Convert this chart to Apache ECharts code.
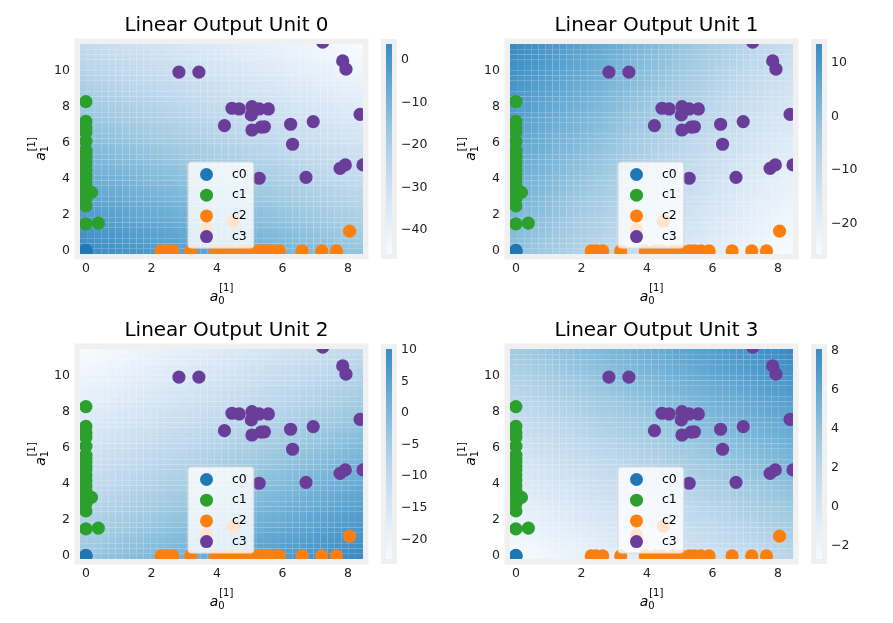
<!DOCTYPE html>
<html><head><meta charset="utf-8">
<script src="https://cdn.jsdelivr.net/npm/echarts@6/dist/echarts.min.js"></script>
<style>html,body{margin:0;padding:0;background:#fff}#c{width:893px;height:623px}</style>
</head><body><div id="c"></div>
<script>
// ---------------- data ----------------
const classNames = ['c0', 'c1', 'c2', 'c3'];
const classColors = ['#1f77b4', '#2ca02c', '#ff7f0e', '#6a3d9a'];
const c0Points = [[0, 0], [0, 0.03], [0, 0]];
const c1Points = [[0, 8.3], [0, 7.2], [0, 6.85], [0, 6.6], [0, 6.1], [0, 5.6], [0, 5.4], [0, 5.2],
  [0, 5.0], [0, 4.8], [0, 4.5], [0, 4.2], [0, 3.9], [0, 3.6], [0, 3.3], [0.17, 3.25], [0, 2.9],
  [0, 2.5], [0, 1.5], [0.38, 1.55]];
const c2Points = [[2.3, 0], [2.45, 0], [2.65, 0], [3.2, 0], [3.95, 0], [4.25, 0], [4.45, 0], [4.8, 0],
  [5.05, 0], [5.3, 0], [5.45, 0], [5.65, 0], [5.9, 0], [6.6, 0], [7.2, 0], [7.65, 0],
  [8.05, 1.1], [4.5, 1.65], [3.68, 1.17]];
const c3Points = [[2.84, 9.94], [3.45, 9.94], [7.23, 11.6], [7.84, 10.56], [7.94, 10.1],
  [4.46, 7.93], [4.68, 7.89], [5.07, 8.02], [5.29, 7.89], [5.57, 7.89], [5.05, 7.56],
  [4.23, 6.96], [5.07, 6.72], [5.35, 6.88], [5.45, 6.9], [6.25, 7.04], [6.94, 7.19],
  [6.31, 5.93], [8.37, 7.59], [5.29, 4.04], [6.72, 4.09], [7.76, 4.59], [7.92, 4.78], [8.46, 4.78]];
const classPoints = [c0Points, c1Points, c2Points, c3Points];

const unitTitles = ['Linear Output Unit 0', 'Linear Output Unit 1', 'Linear Output Unit 2', 'Linear Output Unit 3'];
// linear output z = wA0 * a0 + wA1 * a1 + bias (read from the shading / colorbars)
const unitWeightA0 = [-2.3, -2.96, 1.62, 0.576];
const unitWeightA1 = [-2.65, 1.23, -1.725, 0.52];
const unitBias = [3.57, -0.78, -3.42, -2.62];
const xRange = [-0.18, 8.46];
const yRange = [-0.17, 11.5];
const meshSize = 40;
const xTicks = [0, 2, 4, 6, 8];
const yTicks = [0, 2, 4, 6, 8, 10];
const colorbarTicks = [[0, -10, -20, -30, -40], [10, 0, -10, -20], [10, 5, 0, -5, -10, -15, -20], [8, 6, 4, 2, 0, -2]];
const bluesColors = ['#f7fbff', '#e4eff9', '#d2e3f3', '#bdd7ec', '#9fcae1', '#7ab6d9', '#58a1cf', '#3b8bc3'];

// ---------------- layout ----------------
const panelLayout = [{ left: 80, top: 44 }, { left: 510, top: 44 }, { left: 80, top: 349 }, { left: 510, top: 349 }];
const plotW = 283, plotH = 210;
const FONT = 'DejaVu Sans';

function buildMesh(u) {
  const dx = (xRange[1] - xRange[0]) / meshSize, dy = (yRange[1] - yRange[0]) / meshSize;
  const cells = [];
  for (let i = 0; i < meshSize; i++) {
    for (let j = 0; j < meshSize; j++) {
      const x0 = xRange[0] + i * dx, y0 = yRange[0] + j * dy;
      const v = unitWeightA0[u] * (x0 + dx / 2) + unitWeightA1[u] * (y0 + dy / 2) + unitBias[u];
      cells.push([x0, x0 + dx, y0, y0 + dy, v]);
    }
  }
  return cells;
}

const nameRich = {
  g1: { width: 9.5, fontSize: 10, lineHeight: 4 },
  sup: { fontSize: 10, lineHeight: 4, fontFamily: FONT, color: '#000' },
  a: { fontSize: 14, fontStyle: 'italic', lineHeight: 5, verticalAlign: 'top', fontFamily: FONT, color: '#000' },
  sub: { fontSize: 10, lineHeight: 5, padding: [6.1, 0, 0, 0], verticalAlign: 'top', fontFamily: FONT, color: '#000' },
  g2: { width: 8.7, fontSize: 10, lineHeight: 5 }
};
function axisName(sub) {
  return '{g1| }{sup|[1]}\n{a|a}{sub|' + sub + '}{g2| }';
}

const grids = [], xAxes = [], yAxes = [], series = [], visualMaps = [], titles = [], legends = [];

panelLayout.forEach((p, i) => {
  grids.push({ left: p.left, top: p.top, width: plotW, height: plotH, show: true,
    borderColor: '#f0f0f0', borderWidth: 11, backgroundColor: 'transparent' });
  xAxes.push({ type: 'value', gridIndex: i, min: xRange[0], max: xRange[1],
    axisLine: { show: false }, axisTick: { show: false }, splitLine: { show: false },
    axisLabel: { customValues: xTicks, margin: 8, fontSize: 12.5, fontFamily: FONT, color: '#222' },
    name: axisName('0'), nameLocation: 'middle', nameGap: 32.6,
    nameTextStyle: { rich: nameRich } });
  yAxes.push({ type: 'value', gridIndex: i, min: yRange[0], max: yRange[1],
    axisLine: { show: false }, axisTick: { show: false }, splitLine: { show: false },
    axisLabel: { customValues: yTicks, margin: 10, fontSize: 12.5, fontFamily: FONT, color: '#222' },
    name: axisName('1'), nameLocation: 'middle', nameGap: 39.4, nameRotate: 90,
    nameTextStyle: { rich: nameRich } });
  titles.push({ text: unitTitles[i], left: p.left + plotW / 2, top: p.top - 33, textAlign: 'center',
    textStyle: { fontSize: 20, fontWeight: 'normal', fontFamily: FONT, color: '#000' } });
  legends.push({ orient: 'vertical', left: p.left + 108, top: p.top + 118, data: classNames,
    icon: 'circle', itemWidth: 13, itemHeight: 13, itemGap: 7.7, padding: [6, 7, 5, 12],
    backgroundColor: 'rgba(255,255,255,0.8)', borderColor: '#d8d8d8', borderWidth: 1, borderRadius: 3,
    selectedMode: false,
    textStyle: { fontSize: 12.5, fontFamily: FONT, color: '#000', padding: [0, 0, 0, 14] } });
});

panelLayout.forEach((p, i) => {
  const cells = buildMesh(i);
  let vmin = Infinity, vmax = -Infinity;
  cells.forEach(c => { vmin = Math.min(vmin, c[4]); vmax = Math.max(vmax, c[4]); });
  const heatIndex = series.length;
  series.push({
    type: 'custom', xAxisIndex: i, yAxisIndex: i, data: cells, silent: true, z: 1,
    encode: { x: [0, 1], y: [2, 3] },
    renderItem: (params, api) => {
      const a = api.coord([api.value(0), api.value(3)]);
      const b = api.coord([api.value(1), api.value(2)]);
      return { type: 'rect', shape: { x: a[0], y: a[1], width: b[0] - a[0], height: b[1] - a[1] },
        style: { fill: api.visual('color') } };
    }
  });
  visualMaps.push({ type: 'continuous', show: false, seriesIndex: heatIndex, dimension: 4,
    min: vmin, max: vmax, inRange: { color: bluesColors } });
  classNames.forEach((n, k) => {
    series.push({ type: 'custom', name: n, xAxisIndex: i, yAxisIndex: i, data: classPoints[k],
      encode: { x: 0, y: 1 }, itemStyle: { color: classColors[k] }, z: 3, silent: true, clip: true,
      renderItem: (params, api) => {
        const c = api.coord([api.value(0), api.value(1)]);
        return { type: 'circle', shape: { cx: c[0], cy: c[1], r: 6.6 }, style: { fill: classColors[k] } };
      } });
  });
  // colorbar
  const gi = 4 + i;
  grids.push({ left: p.left + 306, top: p.top, width: 6, height: plotH, show: true,
    borderColor: '#f0f0f0', borderWidth: 10, backgroundColor: 'transparent' });
  xAxes.push({ type: 'value', gridIndex: gi, min: 0, max: 1, show: false });
  yAxes.push({ type: 'value', gridIndex: gi, min: vmin, max: vmax, position: 'right',
    axisLine: { show: false }, axisTick: { show: false }, splitLine: { show: false },
    axisLabel: { customValues: colorbarTicks[i], margin: 9, fontSize: 12.5, fontFamily: FONT, color: '#222',
      formatter: v => (v < 0 ? '\u2212' + Math.abs(v) : String(v)) } });
  series.push({
    type: 'custom', xAxisIndex: gi, yAxisIndex: gi, data: [[0, vmin, vmax]], silent: true,
    renderItem: (params, api) => {
      const top = api.coord([0, api.value(2)]);
      const bot = api.coord([1, api.value(1)]);
      const stops = bluesColors.map((c, k) => ({ offset: k / (bluesColors.length - 1), color: c }));
      return { type: 'rect', shape: { x: top[0], y: top[1], width: bot[0] - top[0], height: bot[1] - top[1] },
        style: { fill: new echarts.graphic.LinearGradient(0, 1, 0, 0, stops) } };
    }
  });
});

const chart = echarts.init(document.getElementById('c'), null, { renderer: 'canvas' });
chart.setOption({
  animation: false,
  backgroundColor: '#ffffff',
  title: titles,
  legend: legends,
  grid: grids,
  xAxis: xAxes,
  yAxis: yAxes,
  visualMap: visualMaps,
  series: series
});
</script></body></html>
